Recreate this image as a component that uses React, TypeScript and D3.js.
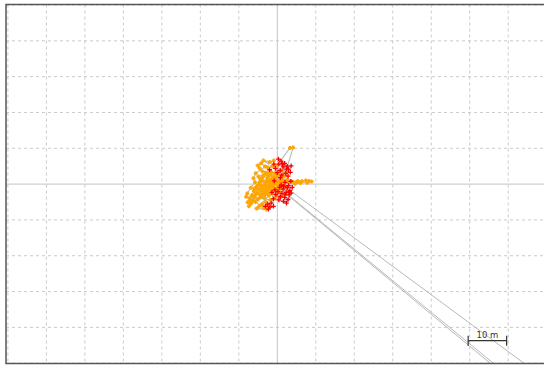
import React from "react";
import * as d3 from "d3";

// Positions in metres relative to the reference point (x east, y north)
const orangeFixes: [number, number][] = [
  [-2.0, 0.5], [-1.5, 1.2], [-2.6, 1.8], [-3.1, 0.2], [-1.0, -0.4], [-0.4, 0.8], [-2.2, -0.9], [-3.5, -1.2],
  [-1.2, 2.1], [-0.2, 1.9], [0.5, 0.3], [-3.8, 1.0], [-4.4, -0.3], [-2.9, -2.0], [-1.7, -1.6], [-0.8, -1.2],
  [0.3, -0.6], [1.0, 1.4], [-2.4, 3.0], [-3.3, 2.6], [-1.6, 3.4], [-0.6, 3.0], [0.2, 2.6], [0.0, 5.2],
  [3.3, 10.1], [4.1, 10.2], [2.2, 3.3], [1.1, 3.9], [-4.8, -1.5], [-5.2, -2.4], [-3.9, -2.7], [-4.6, 0.6],
  [-5.5, -0.8], [-6.1, -2.0], [-6.6, -3.1], [-5.9, -3.5], [-7.2, -4.0], [-7.7, -5.1], [-6.8, -5.4], [-7.4, -6.2],
  [-6.3, -4.6], [-5.0, -4.2], [-4.3, -3.6], [-3.4, -3.8], [-3.0, -5.0], [-4.0, -5.6], [-3.6, -6.6], [-2.6, -6.0],
  [-4.7, -6.2], [-2.2, -3.2], [-1.3, -2.6], [1.4, -0.1], [2.0, 0.9], [3.0, 0.4], [4.2, 0.6], [5.3, 0.9],
  [6.4, 0.8], [7.4, 1.0], [8.2, 0.9], [8.9, 0.7], [7.8, 0.4], [6.0, 0.3], [4.6, 0.1], [2.4, -0.8],
  [1.6, 2.2], [-3.9, 3.6], [-4.6, 4.4], [-5.1, 5.2], [-4.2, 5.8], [-3.2, 4.9], [-2.5, 4.6], [-1.3, 4.9],
  [-3.6, 6.6], [-2.0, 6.2], [-0.9, 6.6], [-5.6, 3.0], [-6.2, 1.6], [-5.8, 0.5], [-6.9, -1.0], [-7.8, -2.6],
  [-8.1, -3.5], [-1.8, -4.4], [-0.7, -4.0], [0.5, -2.2], [-0.2, -3.3], [1.0, -3.6], [-2.8, 0.9], [-1.9, -0.2],
  [-3.6, -0.4], [-2.3, 2.3], [-1.1, 0.2], [-0.3, -1.8], [-4.1, -1.9], [-5.3, -1.2], [-1.4, 1.4], [0.7, 1.0],
  [-3.0, 3.2], [-4.9, 2.1], [-3.2, -3.0], [-5.7, -5.0], [-2.8, -7.1], [-5.4, -6.8], [1.3, 0.5], [2.6, 1.3],
  [0.1, 0.0], [-1.6, -0.9], [-2.5, -1.4], [-4.0, -1.0], [-3.3, -2.4], [-2.0, 1.0], [-0.8, 1.6], [-1.9, 2.6],
  [-2.9, -0.5], [-4.4, 1.5], [-3.7, 2.1], [-5.0, -0.2], [-6.0, -1.3], [-4.6, -2.9], [-5.6, -2.9], [-6.9, -4.6],
  [-2.4, -2.5], [-1.2, -1.9], [0.0, -1.1], [-0.6, 0.3], [0.8, -1.3], [1.8, 0.1], [5.0, 0.5], [3.6, 0.8],
];

const redFixes: [number, number][] = [
  [0.3, 7.0], [1.0, 6.4], [1.9, 5.8], [2.6, 5.0], [0.4, 5.6], [1.5, 4.8], [2.9, 4.1], [0.8, 3.8],
  [2.2, 3.0], [3.4, 3.3], [-0.5, 4.4], [1.2, 2.6], [2.8, 2.2], [-0.9, 5.6], [0.0, 3.2], [3.6, 5.1],
  [0.6, -0.9], [1.5, -1.4], [2.6, -1.0], [3.3, -1.8], [0.2, -2.1], [1.2, -2.6], [2.3, -2.3], [3.1, -3.0],
  [0.8, -3.5], [1.9, -3.7], [2.8, -4.3], [-0.4, -2.9], [0.4, -4.4], [1.6, -4.8], [-1.0, -4.1], [2.4, -5.3],
  [3.6, -2.5], [3.9, -0.9], [-0.6, -1.6], [1.0, -0.2], [-1.6, -5.3], [-2.5, -5.6], [-1.9, -6.4], [-3.1, -6.2],
  [-2.3, -7.0], [-1.0, -6.2], [-1.4, -2.3], [-0.8, 0.9], [0.8, 1.8], [-2.0, 4.0], [2.0, 0.5], [3.5, 0.8],
  [2.9, -0.4], [1.7, -0.6], [3.0, -2.2], [2.0, -3.0], [1.3, 5.6], [2.4, 4.2],
];

// Track legs that jump far outside the view and come back
const excursions: [number, number][][] = [
  [[3.6, -2.0], [100, -78.5]],
  [[3.3, -3.4], [140, -124.0]],
  [[2.6, -3.0], [140, -125.5]],
];

const gridStep = 10; // metres
const scaleBarLength = 10; // metres
const scaleBarLabel = "10 m";

const W = 544;
const H = 365;
const frame = { left: 6, top: 4.5, right: 551, bottom: 363.5 };

export default function App() {
  const x = d3.scaleLinear().domain([-70.5, 70.5]).range([6, 548.6]);
  const y = d3.scaleLinear().domain([-50, 50]).range([363.2, 5.0]);

  const xTicks = d3.range(-70, 71, gridStep);
  const yTicks = d3.range(-50, 51, gridStep);

  const line = d3
    .line<[number, number]>()
    .x((d) => x(d[0]))
    .y((d) => y(d[1]));

  const cross = (cx: number, cy: number, r: number) =>
    `M${cx - r},${cy}H${cx + r}M${cx},${cy - r}V${cy + r}`;

  const orangePath = orangeFixes.map((d) => cross(x(d[0]), y(d[1]), 2)).join("");
  const redPath = redFixes.map((d) => cross(x(d[0]), y(d[1]), 2.3)).join("");

  const barX0 = x(49.6);
  const barX1 = x(49.6 + scaleBarLength);
  const barY = y(-43.7);

  return (
    <svg
      width={W}
      height={H}
      style={{ position: "absolute", left: 0, top: 0, background: "#fff" }}
    >
      <defs>
        <clipPath id="plot-clip">
          <rect
            x={frame.left}
            y={frame.top}
            width={frame.right - frame.left}
            height={frame.bottom - frame.top}
          />
        </clipPath>
      </defs>
      <g clipPath="url(#plot-clip)">
        {xTicks
          .filter((t) => t !== 0)
          .map((t) => (
            <line
              key={"gx" + t}
              x1={x(t)}
              x2={x(t)}
              y1={frame.top}
              y2={frame.bottom}
              stroke="#cacaca"
              strokeWidth={1}
              strokeDasharray="3,3"
            />
          ))}
        {yTicks
          .filter((t) => t !== 0)
          .map((t) => (
            <line
              key={"gy" + t}
              x1={frame.left}
              x2={frame.right}
              y1={y(t)}
              y2={y(t)}
              stroke="#cacaca"
              strokeWidth={1}
              strokeDasharray="3,3"
            />
          ))}
        <line x1={x(0)} x2={x(0)} y1={frame.top} y2={frame.bottom} stroke="#c4c4c4" strokeWidth={1} />
        <line x1={frame.left} x2={frame.right} y1={y(0)} y2={y(0)} stroke="#c4c4c4" strokeWidth={1} />

        {/* track */}
        <path d={line(orangeFixes) ?? ""} fill="none" stroke="#bdbdbd" strokeWidth={1.2} />
        <path d={line(redFixes) ?? ""} fill="none" stroke="#bdbdbd" strokeWidth={1.2} />
        {excursions.map((seg, i) => (
          <path key={"ex" + i} d={line(seg) ?? ""} fill="none" stroke="#b8b8b8" strokeWidth={1} />
        ))}

        {/* fixes */}
        <path d={orangePath} fill="none" stroke="#FFA500" strokeWidth={2} />
        <path d={redPath} fill="none" stroke="#FF0000" strokeWidth={1.3} />
      </g>

      <rect
        x={frame.left}
        y={frame.top}
        width={frame.right - frame.left}
        height={frame.bottom - frame.top}
        fill="none"
        stroke="#555"
        strokeWidth={1.5}
      />

      {/* scale bar */}
      <g stroke="#333" strokeWidth={1.2}>
        <line x1={barX0} x2={barX1} y1={barY} y2={barY} />
        <line x1={barX0} x2={barX0} y1={barY - 5} y2={barY + 5} />
        <line x1={barX1} x2={barX1} y1={barY - 5} y2={barY + 5} />
      </g>
      <text
        x={(barX0 + barX1) / 2}
        y={barY - 3}
        textAnchor="middle"
        fontFamily="DejaVu Sans, sans-serif"
        fontSize={8.5}
        fill="#333"
      >
        {scaleBarLabel}
      </text>
    </svg>
  );
}
